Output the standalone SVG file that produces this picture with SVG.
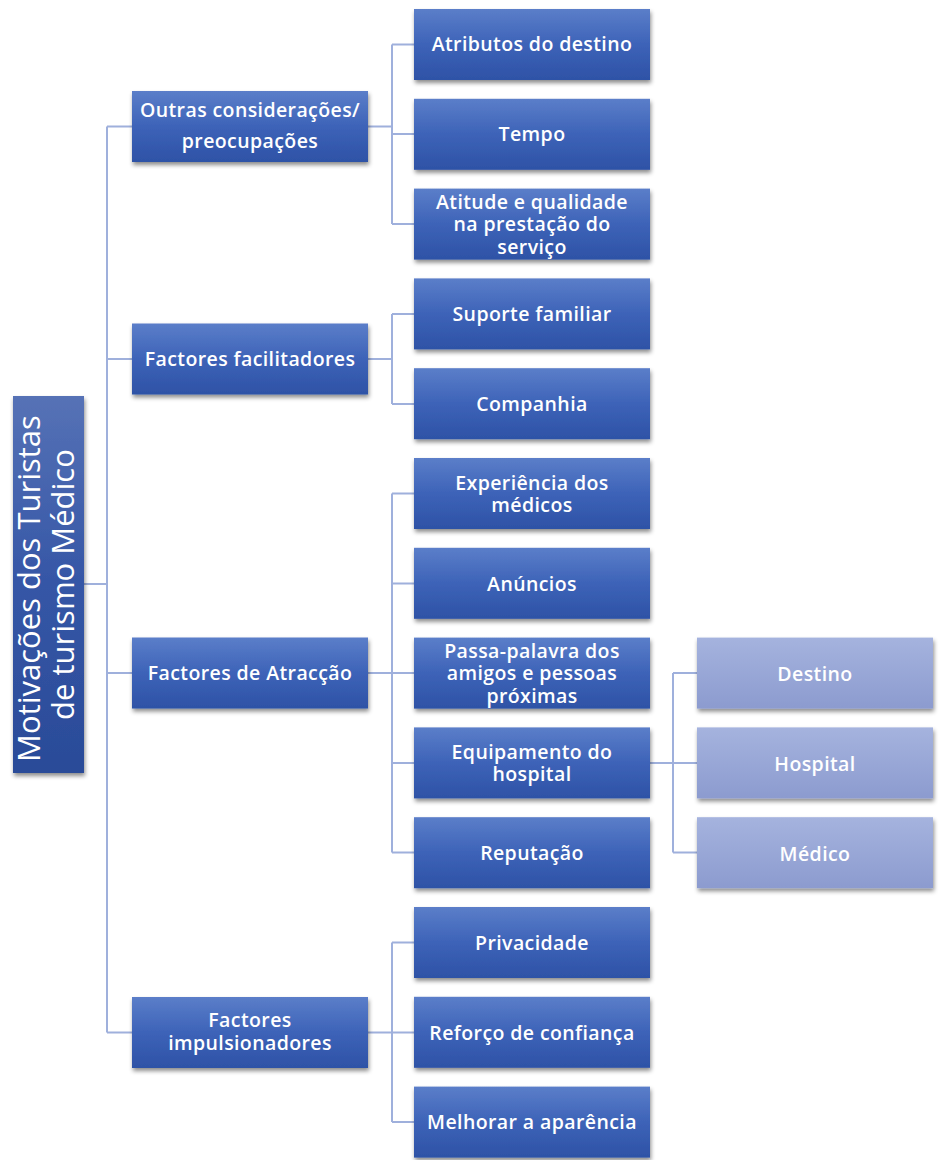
<svg xmlns="http://www.w3.org/2000/svg" width="940" height="1160" viewBox="0 0 940 1160">
  <style>
    .lbl { font-family: "Open Sans", Lato, "Liberation Sans", sans-serif; font-weight: 600; font-size: 19.5px; letter-spacing: 0.4px; fill: #ffffff; text-anchor: middle; }
    .root-lbl { font-family: "Open Sans", Lato, "Liberation Sans", sans-serif; font-size: 31px; fill: #ffffff; text-anchor: middle; }
    .box { fill: url(#gBlue); filter: url(#shadow); }
    .box-root { fill: url(#gRoot); filter: url(#shadow); }
    .box-light { fill: url(#gLight); filter: url(#shadow); }
    .conn { fill: none; stroke: #9fb0dc; stroke-width: 2; }
  </style>
  <defs>
    <linearGradient id="gBlue" x1="0" y1="0" x2="0" y2="1">
      <stop offset="0" stop-color="#5b7ec9"/>
      <stop offset="0.5" stop-color="#3d63b8"/>
      <stop offset="1" stop-color="#2e52a6"/>
    </linearGradient>
    <linearGradient id="gRoot" x1="0" y1="0" x2="0" y2="1">
      <stop offset="0" stop-color="#5672b6"/>
      <stop offset="0.5" stop-color="#3556a6"/>
      <stop offset="1" stop-color="#2a4b98"/>
    </linearGradient>
    <linearGradient id="gLight" x1="0" y1="0" x2="0" y2="1">
      <stop offset="0" stop-color="#a5b3de"/>
      <stop offset="1" stop-color="#8c9bcf"/>
    </linearGradient>
    <filter id="shadow" x="-10%" y="-20%" width="130%" height="150%">
      <feDropShadow dx="1" dy="3" stdDeviation="2" flood-color="#000000" flood-opacity="0.45"/>
    </filter>
  </defs>

  <rect width="940" height="1160" fill="#ffffff"/>

  <!-- connectors -->
  <g id="connectors">
    <path class="conn" d="M84 584 H107 M107 126.5 V1032.5 M107 126.5 H132 M107 359 H132 M107 673 H132 M107 1032.5 H132"/>
    <path class="conn" d="M368 126.5 H392 M392 44.5 V224 M392 44.5 H414 M392 134 H414 M392 224 H414"/>
    <path class="conn" d="M368 359 H392 M392 314 V404 M392 314 H414 M392 404 H414"/>
    <path class="conn" d="M368 673 H392 M392 493.5 V852.5 M392 493.5 H414 M392 583.5 H414 M392 673 H414 M392 763 H414 M392 852.5 H414"/>
    <path class="conn" d="M368 1032.5 H392 M392 942.5 V1122 M392 942.5 H414 M392 1032.5 H414 M392 1122 H414"/>
    <path class="conn" d="M650 763 H673 M673 673 V852.5 M673 673 H697 M673 763 H697 M673 852.5 H697"/>
  </g>

  <!-- root -->
  <g id="root">
    <rect class="box-root" x="13" y="396" width="71" height="377"/>
    <text class="root-lbl" transform="translate(48.5 584.5) rotate(-90)">
      <tspan x="0" y="-9">Motivações dos Turistas</tspan>
      <tspan x="0" y="25">de turismo Médico</tspan>
    </text>
  </g>

  <!-- level 1 -->
  <g id="outras">
    <rect class="box" x="132" y="91" width="236" height="71"/>
    <text class="lbl"><tspan x="250" y="117">Outras considerações/</tspan><tspan x="250" y="148">preocupações</tspan></text>
  </g>
  <g id="facilitadores">
    <rect class="box" x="132" y="323.5" width="236" height="71"/>
    <text class="lbl" x="250" y="366">Factores facilitadores</text>
  </g>
  <g id="atraccao">
    <rect class="box" x="132" y="637.5" width="236" height="71"/>
    <text class="lbl" x="250" y="680">Factores de Atracção</text>
  </g>
  <g id="impulsionadores">
    <rect class="box" x="132" y="997" width="236" height="71"/>
    <text class="lbl"><tspan x="250" y="1027">Factores</tspan><tspan x="250" y="1050">impulsionadores</tspan></text>
  </g>

  <!-- level 2 -->
  <g id="atributos">
    <rect class="box" x="414" y="9" width="236" height="71"/>
    <text class="lbl" x="532" y="51">Atributos do destino</text>
  </g>
  <g id="tempo">
    <rect class="box" x="414" y="98.8" width="236" height="71"/>
    <text class="lbl" x="532" y="141">Tempo</text>
  </g>
  <g id="atitude">
    <rect class="box" x="414" y="188.6" width="236" height="71"/>
    <text class="lbl"><tspan x="532" y="209">Atitude  e qualidade</tspan><tspan x="532" y="231">na prestação do</tspan><tspan x="532" y="254">serviço</tspan></text>
  </g>
  <g id="suporte">
    <rect class="box" x="414" y="278.4" width="236" height="71"/>
    <text class="lbl" x="532" y="321">Suporte familiar</text>
  </g>
  <g id="companhia">
    <rect class="box" x="414" y="368.2" width="236" height="71"/>
    <text class="lbl" x="532" y="411">Companhia</text>
  </g>
  <g id="experiencia">
    <rect class="box" x="414" y="458" width="236" height="71"/>
    <text class="lbl"><tspan x="532" y="490">Experiência dos</tspan><tspan x="532" y="512">médicos</tspan></text>
  </g>
  <g id="anuncios">
    <rect class="box" x="414" y="547.8" width="236" height="71"/>
    <text class="lbl" x="532" y="591">Anúncios</text>
  </g>
  <g id="passa-palavra">
    <rect class="box" x="414" y="637.6" width="236" height="71"/>
    <text class="lbl"><tspan x="532" y="658">Passa-palavra dos</tspan><tspan x="532" y="680">amigos e pessoas</tspan><tspan x="532" y="703">próximas</tspan></text>
  </g>
  <g id="equipamento">
    <rect class="box" x="414" y="727.4" width="236" height="71"/>
    <text class="lbl"><tspan x="532" y="759">Equipamento do</tspan><tspan x="532" y="781">hospital</tspan></text>
  </g>
  <g id="reputacao">
    <rect class="box" x="414" y="817.2" width="236" height="71"/>
    <text class="lbl" x="532" y="860">Reputação</text>
  </g>
  <g id="privacidade">
    <rect class="box" x="414" y="907" width="236" height="71"/>
    <text class="lbl" x="532" y="950">Privacidade</text>
  </g>
  <g id="reforco">
    <rect class="box" x="414" y="996.8" width="236" height="71"/>
    <text class="lbl" x="532" y="1040">Reforço de confiança</text>
  </g>
  <g id="aparencia">
    <rect class="box" x="414" y="1086.6" width="236" height="71"/>
    <text class="lbl" x="532" y="1129">Melhorar a aparência</text>
  </g>

  <!-- level 3 -->
  <g id="destino">
    <rect class="box-light" x="697" y="637.6" width="236" height="71"/>
    <text class="lbl" x="815" y="681">Destino</text>
  </g>
  <g id="hospital">
    <rect class="box-light" x="697" y="727.4" width="236" height="71"/>
    <text class="lbl" x="815" y="771">Hospital</text>
  </g>
  <g id="medico">
    <rect class="box-light" x="697" y="817.2" width="236" height="71"/>
    <text class="lbl" x="815" y="861">Médico</text>
  </g>
</svg>
